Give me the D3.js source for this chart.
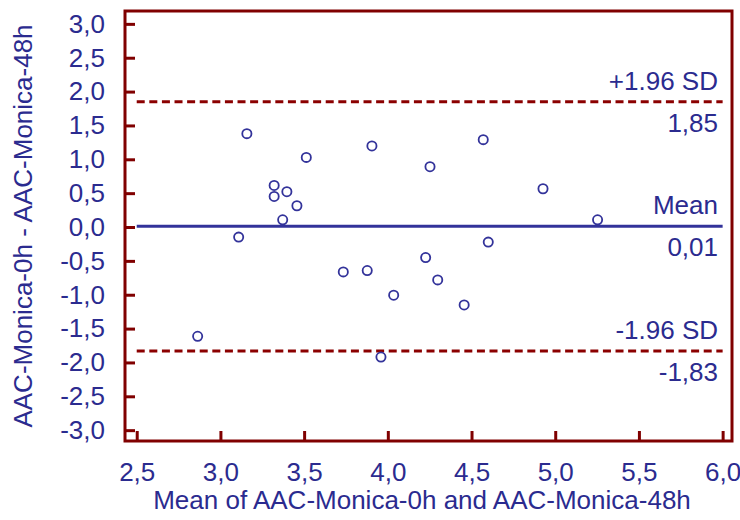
<!DOCTYPE html>
<html>
<head>
<meta charset="utf-8">
<script src="https://cdn.jsdelivr.net/npm/d3@7"></script>
<style>
  html, body { margin: 0; padding: 0; background: #fff; }
  svg { display: block; }
  text { font-family: "Liberation Sans", Arial, sans-serif; fill: #2b2b8f; }
</style>
</head>
<body>
<svg id="chart" width="740" height="520"></svg>
<script>
// Data: mean of the two measurements (x) and their difference (y)
const meanValues = [3.158, 3.905, 4.570, 3.513, 4.252, 3.321, 3.397, 3.321, 3.457, 3.372, 4.927,
                    5.253, 3.109, 4.600, 4.226, 3.734, 3.877, 4.298, 4.035, 4.456, 2.864, 3.959];
const diffValues = [1.379, 1.197, 1.290, 1.028, 0.891, 0.614, 0.521, 0.451, 0.314, 0.107, 0.565,
                    0.107, -0.149, -0.223, -0.451, -0.663, -0.643, -0.781, -1.007, -1.151, -1.614, -1.920];
const xTicks = [2.5, 3.0, 3.5, 4.0, 4.5, 5.0, 5.5, 6.0];
const yTicks = [3.0, 2.5, 2.0, 1.5, 1.0, 0.5, 0.0, -0.5, -1.0, -1.5, -2.0, -2.5, -3.0];
const meanDiff = 0.01;
const upperLoA = 1.85;
const lowerLoA = -1.83;
const xTitle = "Mean of AAC-Monica-0h and AAC-Monica-48h";
const yTitle = "AAC-Monica-0h - AAC-Monica-48h";

const fmt = v => v.toFixed(1).replace(".", ",");
const fmt2 = v => v.toFixed(2).replace(".", ",");

const svg = d3.select("#chart");
const pL = 125, pR = 732, pT = 11, pB = 441;
const x = d3.scaleLinear().domain([2.43, 6.056]).range([pL, pR]);
const y = d3.scaleLinear().domain([-3.16, 3.19]).range([pB, pT]);

const axisColor = "#800000";
const blue = "#2b2b8f";
const fs = 26;

// Reference lines
const lineX0 = x(2.5), lineX1 = x(6.0);
[upperLoA, lowerLoA].forEach(v => {
  svg.append("line")
    .attr("x1", lineX0).attr("x2", lineX1)
    .attr("y1", y(v)).attr("y2", y(v))
    .attr("stroke", "#8b0000").attr("stroke-width", 3)
    .attr("stroke-dasharray", "8,4.6");
});
svg.append("line")
  .attr("x1", lineX0).attr("x2", lineX1)
  .attr("y1", y(meanDiff)).attr("y2", y(meanDiff))
  .attr("stroke", "#33339a").attr("stroke-width", 3);

// Points
svg.append("g").selectAll("circle")
  .data(meanValues.map((m, i) => [m, diffValues[i]]))
  .join("circle")
  .attr("cx", d => x(d[0])).attr("cy", d => y(d[1]))
  .attr("r", 4.6)
  .attr("fill", "#fff")
  .attr("stroke", "#33339a").attr("stroke-width", 1.8);

// Axes (ticks pointing inward)
const xAxis = svg.append("g").attr("transform", `translate(0,${pB})`)
  .call(d3.axisBottom(x).tickValues(xTicks).tickSizeInner(-10).tickSizeOuter(0).tickFormat(fmt).tickPadding(22));
const yAxis = svg.append("g").attr("transform", `translate(${pL},0)`)
  .call(d3.axisLeft(y).tickValues(yTicks).tickSizeInner(-10).tickSizeOuter(0).tickFormat(fmt).tickPadding(20));
[xAxis, yAxis].forEach(g => {
  g.select(".domain").remove();
  g.selectAll(".tick line").attr("stroke", axisColor).attr("stroke-width", 3);
  g.selectAll(".tick text").attr("font-size", fs).attr("font-family", "Liberation Sans, Arial, sans-serif").attr("fill", blue);
});

// Frame
svg.append("rect")
  .attr("x", pL).attr("y", pT)
  .attr("width", pR - pL).attr("height", pB - pT)
  .attr("fill", "none").attr("stroke", axisColor).attr("stroke-width", 3);

// Line labels
const lx = 718;
const labels = [
  { t: "+1.96 SD", v: upperLoA, dy: -12 },
  { t: fmt2(upperLoA), v: upperLoA, dy: 30 },
  { t: "Mean", v: meanDiff, dy: -12 },
  { t: fmt2(meanDiff), v: meanDiff, dy: 30 },
  { t: "-1.96 SD", v: lowerLoA, dy: -12 },
  { t: fmt2(lowerLoA), v: lowerLoA, dy: 30 }
];
svg.append("g").selectAll("text").data(labels).join("text")
  .attr("x", lx).attr("y", d => y(d.v) + d.dy)
  .attr("text-anchor", "end").attr("font-size", fs)
  .text(d => d.t);

// Axis titles
svg.append("text")
  .attr("x", 422).attr("y", 509)
  .attr("text-anchor", "middle").attr("font-size", fs)
  .text(xTitle);
svg.append("text")
  .attr("transform", `translate(32,226) rotate(-90)`)
  .attr("text-anchor", "middle").attr("font-size", fs)
  .text(yTitle);
</script>
</body>
</html>
